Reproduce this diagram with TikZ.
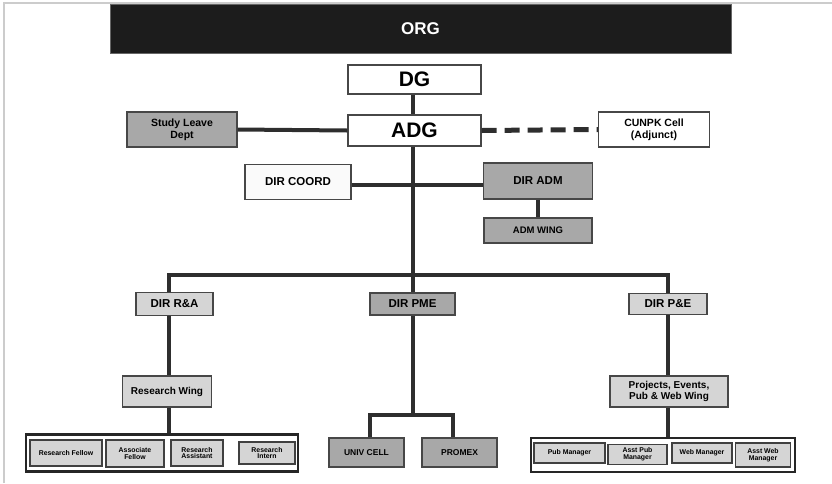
\documentclass[tikz,border=0pt]{standalone}
\usepackage{fontspec}
\setmainfont{Liberation Sans}
\begin{document}
\begin{tikzpicture}[x=1pt,y=-1pt,
  box/.style={draw=boxline, line width=1.3pt, inner sep=0pt, align=center, font=\bfseries},
  dark/.style={box, fill=gdark},
  light/.style={box, fill=glight},
  white/.style={box, fill=white},
  cont/.style={draw=black!85, line width=2.6pt, fill=white, inner sep=0pt},
  item/.style={light, line width=1.5pt, draw=black!75, font=\bfseries\fontsize{6.9}{6.9}\selectfont},
  conn/.style={draw=linec, line width=4pt},
  sz/.style 2 args={minimum width=#1pt, minimum height=#2pt}
]
\definecolor{boxline}{HTML}{474747}
\definecolor{gdark}{HTML}{A8A8A8}
\definecolor{glight}{HTML}{D5D5D5}
\definecolor{linec}{HTML}{2E2E2E}
\definecolor{framec}{HTML}{CCCCCC}
\useasboundingbox (0,0) rectangle (832,483);
% frame
\draw[framec, line width=1.5pt] (4,483) -- (4,3) -- (832,3);

% title bar
\node[fill=black!89, draw=black!60, line width=0.8pt, sz={621}{49}, inner sep=0pt,
      text=white, font=\bfseries\fontsize{17}{17}\selectfont] (org) at (420.5,28.5) {ORG};

% top level
\node[white, sz={133}{29}, font=\bfseries\fontsize{21}{21}\selectfont] (dg) at (414.5,79.5) {DG};
\node[white, sz={133}{31}, font=\bfseries\fontsize{21}{21}\selectfont] (adg) at (414.5,130.5) {ADG};
\node[dark, sz={110}{35}, font=\bfseries\fontsize{10.5}{12}\selectfont] (sl) at (182,129.5) {Study Leave\\Dept};
\node[white, sz={111}{35}, font=\bfseries\fontsize{10.5}{12}\selectfont] (cu) at (654,129.5) {CUNPK Cell\\(Adjunct)};

\node[box, fill=black!2, sz={106}{35}, font=\bfseries\fontsize{11.5}{12}\selectfont] (coord) at (298,182) {DIR COORD};
\node[dark, sz={109}{36}, font=\bfseries\fontsize{11.5}{12}\selectfont] (adm) at (538,181) {DIR ADM};
\node[dark, sz={108}{25}, font=\bfseries\fontsize{9.5}{10}\selectfont] (admw) at (538,230.5) {ADM WING};

% directors
\node[light, sz={77}{23}, font=\bfseries\fontsize{11.5}{12}\selectfont] (ra) at (174.5,304) {DIR R\&A};
\node[dark, sz={85}{22}, font=\bfseries\fontsize{11.5}{12}\selectfont] (pme) at (412.5,304) {DIR PME};
\node[light, sz={78}{21}, font=\bfseries\fontsize{11.5}{12}\selectfont] (pe) at (668,304) {DIR P\&E};

% wings
\node[light, sz={89}{31}, font=\bfseries\fontsize{10}{11}\selectfont] (rw) at (167,391.5) {Research Wing};
\node[light, sz={118}{31}, font=\bfseries\fontsize{10}{11.5}\selectfont] (proj) at (669,391.5) {Projects, Events,\\Pub \& Web Wing};

% PME units
\node[dark, sz={75}{29}, font=\bfseries\fontsize{8.5}{9}\selectfont] (univ) at (366.5,452.5) {UNIV CELL};
\node[dark, sz={75}{29}, font=\bfseries\fontsize{8.5}{9}\selectfont] (promex) at (459.5,452.5) {PROMEX};

% research container
\node[cont, sz={272}{37}] (rc) at (162,453) {};
\node[item, sz={72}{26}] (rf) at (66,453) {Research Fellow};
\node[item, sz={58}{27}] (af) at (135,453.5) {Associate\\Fellow};
\node[item, sz={52}{26}] (ras) at (197,453) {Research\\Assistant};
\node[item, sz={56}{22}] (ri) at (267,453) {Research\\Intern};

% P&E container
\node[cont, sz={264}{34}] (pc) at (663,455) {};
\node[item, sz={71}{20}] (pm) at (569.5,453) {Pub Manager};
\node[item, sz={59}{20}] (apm) at (637.5,454.5) {Asst Pub\\Manager};
\node[item, sz={60}{20}] (wm) at (702,453) {Web Manager};
\node[item, sz={55}{24}] (awm) at (763,455) {Asst Web\\Manager};

% helper coordinates
\coordinate (tx) at (413,0);
\coordinate (bus) at (413,275);
\coordinate (hl) at (413,185);
\coordinate (rax) at (169,0);
\coordinate (pex) at (668,0);
\coordinate (pmej) at (413,415);
\coordinate (ux) at (370,0);
\coordinate (px) at (453,0);

% connectors
\draw[conn] (dg.south -| tx) -- (adg.north -| tx);
\draw[conn] (sl.east) -- (adg.west);
\draw[conn, dash pattern=on 15pt off 8pt, line width=5pt] (adg.east) -- (cu.west);
\draw[conn] (adg.south -| tx) -- (pme.north -| tx);
\draw[conn] (coord.east |- hl) -- (adm.west |- hl);
\draw[conn] (adm.south) -- (admw.north);
\draw[conn] (ra.north -| rax) -- (rax |- bus) -- (pex |- bus) -- (pe.north -| pex);
\draw[conn] (ra.south -| rax) -- (rw.north -| rax);
\draw[conn] (rw.south -| rax) -- (rc.north -| rax);
\draw[conn] (pe.south -| pex) -- (proj.north -| pex);
\draw[conn] (proj.south -| pex) -- (pc.north -| pex);
\draw[conn] (pme.south -| tx) -- (pmej);
\draw[conn] (univ.north -| ux) -- (ux |- pmej) -- (px |- pmej) -- (promex.north -| px);
\end{tikzpicture}
\end{document}
